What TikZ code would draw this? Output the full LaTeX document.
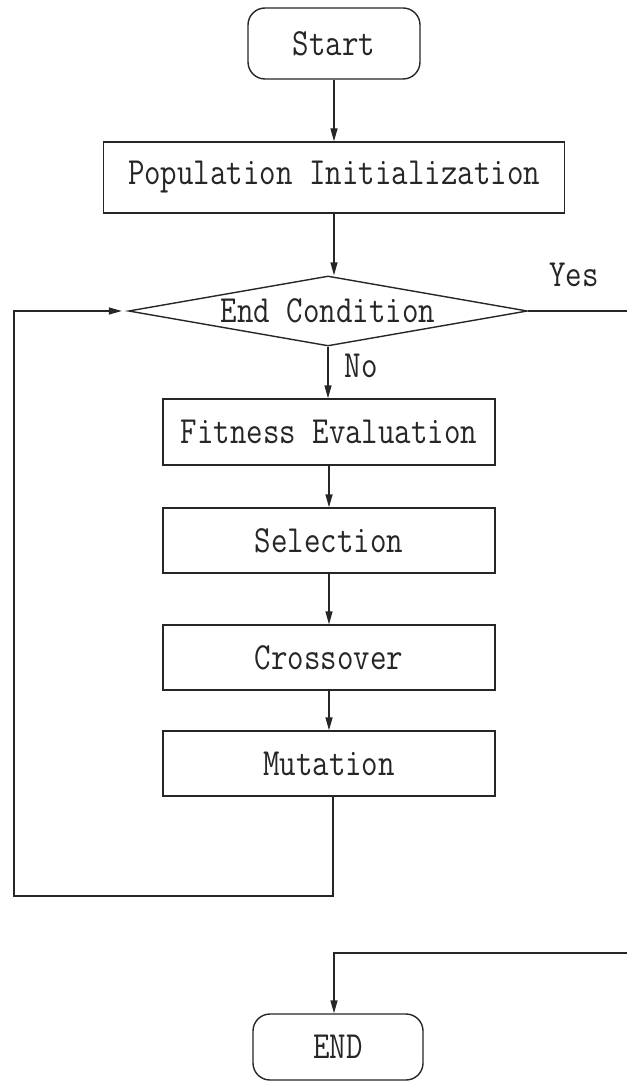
\documentclass[tikz,border=0pt]{standalone}
\usepackage{fontspec}
\usepackage{graphicx}
\usetikzlibrary{shapes.geometric,arrows.meta}
\newcommand{\tl}[1]{\scalebox{1}[1.2]{#1}}
\begin{document}
\begin{tikzpicture}[x=1pt,y=-1pt,
  every node/.style={font=\ttfamily\fontsize{32}{38}\selectfont, text=black!85},
  line/.style={draw=black!85, line width=1.4pt},
  arr/.style={line, -{Triangle[length=13pt,width=7pt]}},
  terminal/.style={line, rectangle, rounded corners=17pt, inner sep=0pt},
  procbox/.style={line, rectangle, inner sep=0pt},
  decision/.style={line, diamond, aspect=5.7, inner sep=0pt},
  lbl/.style={inner sep=0pt}]
\useasboundingbox (0,0) rectangle (627,1083);
\node[terminal, minimum width=172pt, minimum height=71pt] (start) at (334,43.5) {\tl{Start}};
\node[procbox, minimum width=461pt, minimum height=71pt] (init) at (334,177.5) {\tl{Population Initialization}};
\node[decision, minimum width=399pt, minimum height=70pt] (cond) at (328,311) {\tl{End Condition}};
\node[procbox, minimum width=332pt, minimum height=66pt] (fit) at (329,432) {\tl{Fitness Evaluation}};
\node[procbox, minimum width=332pt, minimum height=65pt] (sel) at (329,540.5) {\tl{Selection}};
\node[procbox, minimum width=332pt, minimum height=65pt] (cross) at (329,657.5) {\tl{Crossover}};
\node[procbox, minimum width=332pt, minimum height=65pt] (mut) at (329,763.5) {\tl{Mutation}};
\node[terminal, minimum width=170pt, minimum height=66pt] (end) at (338,1047) {\tl{END}};
\node[lbl] (yes) at (574,275) {\tl{Yes}};
\node[lbl] (no) at (361,366) {\tl{No}};
\coordinate (yesR) at (627,311);
\coordinate (endR) at (627,953);
\coordinate (endC) at (334,953);
\coordinate (loopB) at (333,896);
\coordinate (loopL) at (14,896);
\coordinate (loopT) at (14,311);
\draw[arr] (start.south) -- (init.north);
\draw[arr] (init.south) -- (init.south |- cond.north);
\draw[arr] (cond.south) -- (cond.south |- fit.north);
\draw[arr] (fit.south) -- (sel.north);
\draw[arr] (sel.south) -- (cross.north);
\draw[arr] (cross.south) -- (mut.north);
\draw[arr, shorten >=6pt] (mut.south -| loopB) -- (loopB) -- (loopL) -- (loopT) -- (cond.west);
\draw[line] (cond.east) -- (yesR);
\draw[arr] (endR) -- (endC) -- (endC |- end.north);
\end{tikzpicture}
\end{document}
